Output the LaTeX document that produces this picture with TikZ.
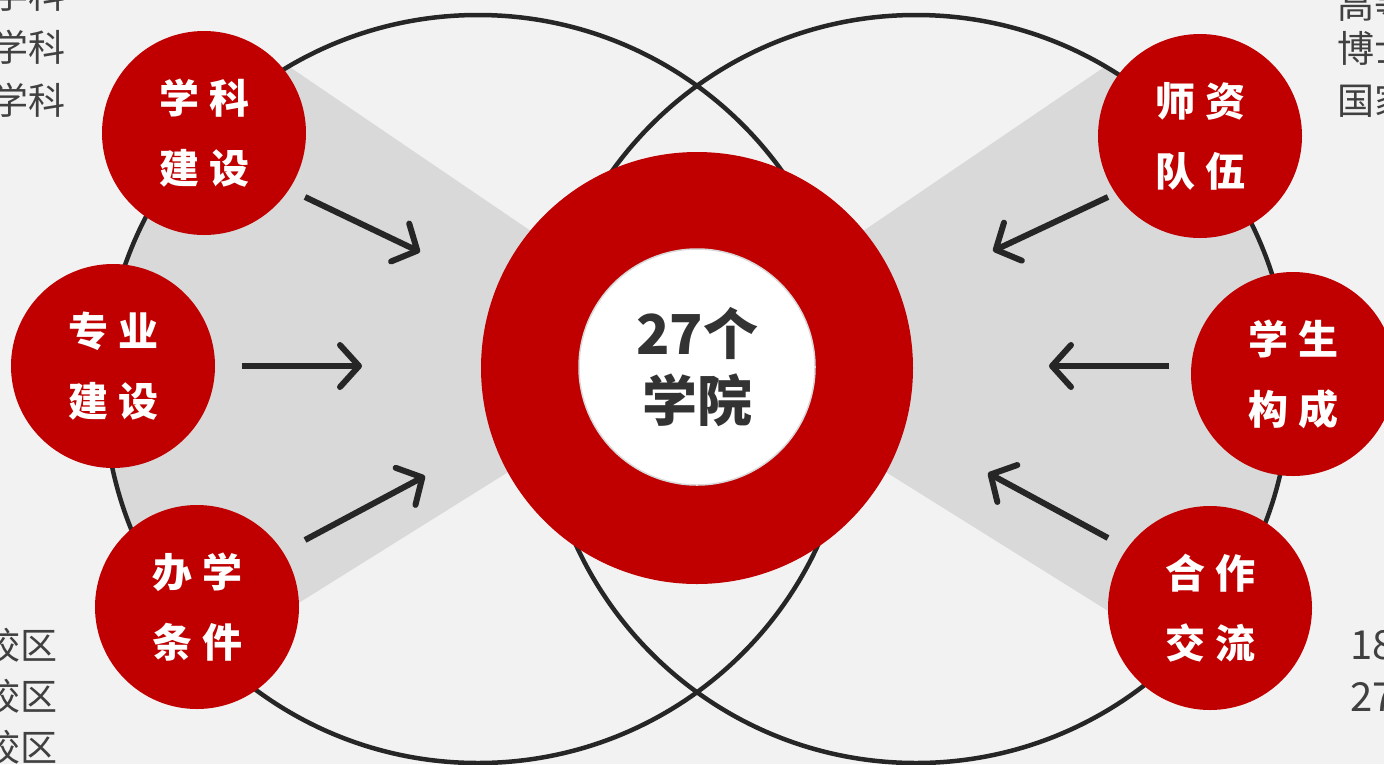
\documentclass[tikz,border=0pt]{standalone}
\usepackage{fontspec}
\newfontfamily\cjk{Noto Sans CJK SC}
\usetikzlibrary{arrows.meta}
\definecolor{bg}{HTML}{F2F2F2}
\definecolor{wedgegray}{HTML}{D9D9D9}
\definecolor{dred}{HTML}{C00000}
\definecolor{ink}{HTML}{262626}
\definecolor{ctext}{HTML}{333333}
\definecolor{sidetext}{HTML}{404040}
\tikzset{
  bigring/.style={circle, draw=ink, line width=4.5pt, minimum size=748pt, inner sep=0pt},
  reddot/.style={circle, fill=dred, minimum size=204pt, inner sep=0pt, text=white,
    font=\cjk\bfseries\fontsize{40}{70}\selectfont, align=center},
  flow/.style={draw=ink, line width=6pt, -{Straight Barb[round,length=19pt,width=42pt]}},
  sidelabel/.style={inner sep=0pt, text=sidetext, font=\cjk\fontsize{37}{37}\selectfont},
  wedgefill/.style={fill=wedgegray}
}
\newcommand{\gp}{\hspace{10pt}}
\begin{document}
\begin{tikzpicture}[x=1pt,y=-1pt]
\useasboundingbox (0,0) rectangle (1384,764);
\clip (0,0) rectangle (1384,764);
\fill[bg] (0,0) rectangle (1384,764);

% gray wedges
\begin{scope}
  \clip (478,389) circle[radius=374pt];
  \fill[wedgefill] (697,344) -- (-103,-200) -- (-103,854) -- (697,354) -- cycle;
\end{scope}
\begin{scope}
  \clip (916,389) circle[radius=374pt];
  \fill[wedgefill] (697,344) -- (1497,-200) -- (1497,854) -- (697,354) -- cycle;
\end{scope}

% big rings
\node[bigring] (L) at (478,389) {};
\node[bigring] (R) at (916,389) {};

% side texts (cut by the frame, as in the reference)
\node[sidelabel, anchor=east] (t1) at (66,-6) {学科};
\node[sidelabel, anchor=east] (t2) at (66,47) {学科};
\node[sidelabel, anchor=east] (t3) at (66,100) {学科};
\node[sidelabel, anchor=west] (t4) at (1337,4) {高等};
\node[sidelabel, anchor=west] (t5) at (1337,48) {博士};
\node[sidelabel, anchor=west] (t6) at (1337,100) {国家};
\node[sidelabel, anchor=east] (t7) at (58,645) {校区};
\node[sidelabel, anchor=east] (t8) at (58,696) {校区};
\node[sidelabel, anchor=east] (t9) at (58,747) {校区};
\node[sidelabel, anchor=west, font=\cjk\fontsize{40}{40}\selectfont] (t10) at (1350,645) {18};
\node[sidelabel, anchor=west, font=\cjk\fontsize{40}{40}\selectfont] (t11) at (1350,697) {27};

% red topic circles
\node[reddot] (c1) at (204,133) {学\gp 科\\建\gp 设};
\node[reddot] (c2) at (113,366) {专\gp 业\\建\gp 设};
\node[reddot] (c3) at (197,607) {办\gp 学\\条\gp 件};
\node[reddot] (c4) at (1200,136) {师\gp 资\\队\gp 伍};
\node[reddot] (c5) at (1293,374) {学\gp 生\\构\gp 成};
\node[reddot] (c6) at (1210,608) {合\gp 作\\交\gp 流};

% arrows
\coordinate (a1s) at (305,197); \coordinate (a1e) at (420,252);
\coordinate (a2s) at (242,366); \coordinate (a2e) at (362,366);
\coordinate (a3s) at (305,540); \coordinate (a3e) at (425,476);
\coordinate (a4s) at (1108,197); \coordinate (a4e) at (993,251);
\coordinate (a5s) at (1169,366); \coordinate (a5e) at (1049,366);
\coordinate (a6s) at (1108,538); \coordinate (a6e) at (988,473);
\draw[flow] (a1s) -- (a1e);
\draw[flow] (a2s) -- (a2e);
\draw[flow] (a3s) -- (a3e);
\draw[flow] (a4s) -- (a4e);
\draw[flow] (a5s) -- (a5e);
\draw[flow] (a6s) -- (a6e);

% centre
\node[circle, fill=dred, minimum size=432pt, inner sep=0pt] (core) at (697,368) {};
\node[circle, fill=white, draw=wedgegray, line width=1.5pt, minimum size=236pt, inner sep=0pt,
  text=ctext, font=\cjk\bfseries\fontsize{55}{67}\selectfont, align=center] (hub) at (697,367) {27个\\学院};
\end{tikzpicture}
\end{document}
